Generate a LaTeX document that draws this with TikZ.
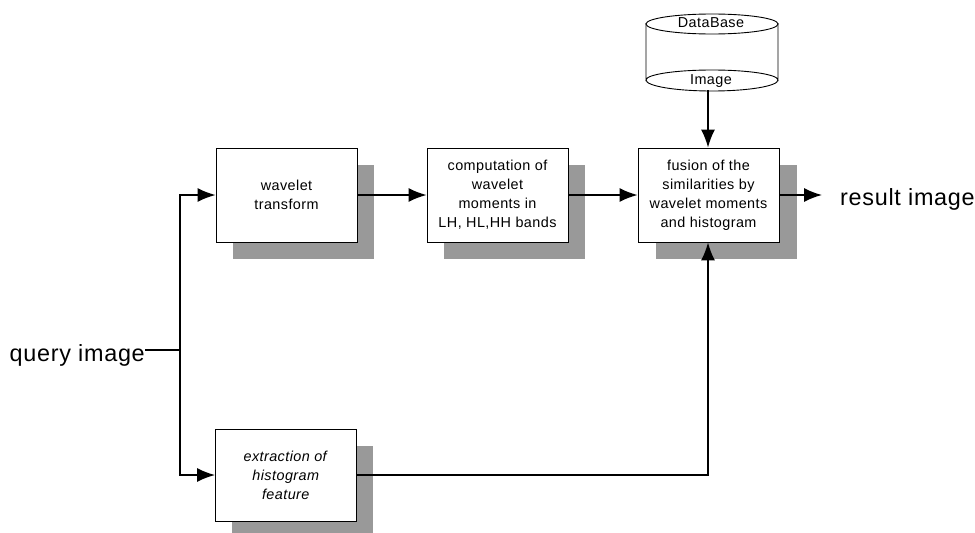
\documentclass[tikz,border=0pt]{standalone}
\usepackage{fontspec}
\setmainfont{Liberation Sans}
\newfontfamily\spaced[LetterSpace=3]{Liberation Sans}
\usetikzlibrary{arrows.meta}
\tikzset{
  box/.style={draw=black,line width=0.9pt,fill=white,minimum width=141pt,minimum height=94pt,inner sep=0pt,align=center,font=\spaced\fontsize{14.4}{19}\selectfont},
  shade box/.style={fill=black!40,draw=none,minimum width=141pt,minimum height=94pt,inner sep=0pt},
  conn/.style={draw=black,line width=1.5pt,-{Latex[length=18pt,width=14pt]}},
  plainline/.style={draw=black,line width=1.2pt},
  biglabel/.style={font=\spaced\fontsize{23.4}{26}\selectfont,inner sep=0pt},
  dblabel/.style={font=\spaced\fontsize{14.4}{16}\selectfont,inner sep=0pt},
}
\begin{document}
\begin{tikzpicture}[x=1pt,y=-1pt]
\useasboundingbox (0,0) rectangle (975,533);
% shadows
\begin{scope}
\clip (0,0) rectangle (975,533);
\node[shade box] (s1) at (303.5,212) {};
\node[shade box] (s2) at (514.5,212) {};
\node[shade box] (s3) at (726.5,212) {};
\node[shade box] (s4) at (302.5,493) {};
\end{scope}
% boxes
\node[box] (wt) at (286.5,195) {wavelet\\transform};
\node[box] (cm) at (497.5,195) {computation of\\wavelet\\moments in\\LH, HL,HH bands};
\node[box] (fu) at (708.5,195) {fusion of the\\similarities by\\wavelet moments\\and histogram};
\node[box,minimum height=92pt] (ex) at (286,475) {\textit{extraction of}\\\textit{histogram}\\\textit{feature}};
% database
\draw[black,line width=0.9pt,fill=white] (646,23) -- (646,80) arc[start angle=180,end angle=360,x radius=66,y radius=10] -- (778,23);
\draw[black,line width=0.9pt] (712,24) ellipse[x radius=66,y radius=10];
\draw[black,line width=0.9pt] (646,80) arc[start angle=180,end angle=0,x radius=66,y radius=11];
\node[dblabel] (dbt) at (711,23) {DataBase};
\node[dblabel] (dbi) at (711,81) {Image};
\coordinate (dbout) at (708,90);
% labels
\node[biglabel,anchor=east] (q) at (145,355) {query image};
\node[biglabel,anchor=west] (r) at (840,199) {result image};
% connectors
\coordinate (j) at (180,350);
\coordinate (rend) at (822,195);
\draw[plainline] (q.east |- j) -- (j);
\draw[conn] (j) |- (wt.west);
\draw[conn] (j) |- (ex.west);
\draw[conn] (wt) -- (cm);
\draw[conn] (cm) -- (fu);
\draw[conn] (fu) -- (rend);
\draw[conn] (dbout) -- (dbout |- fu.north);
\draw[conn] (ex.east) -| (dbout |- fu.south);
\end{tikzpicture}
\end{document}
